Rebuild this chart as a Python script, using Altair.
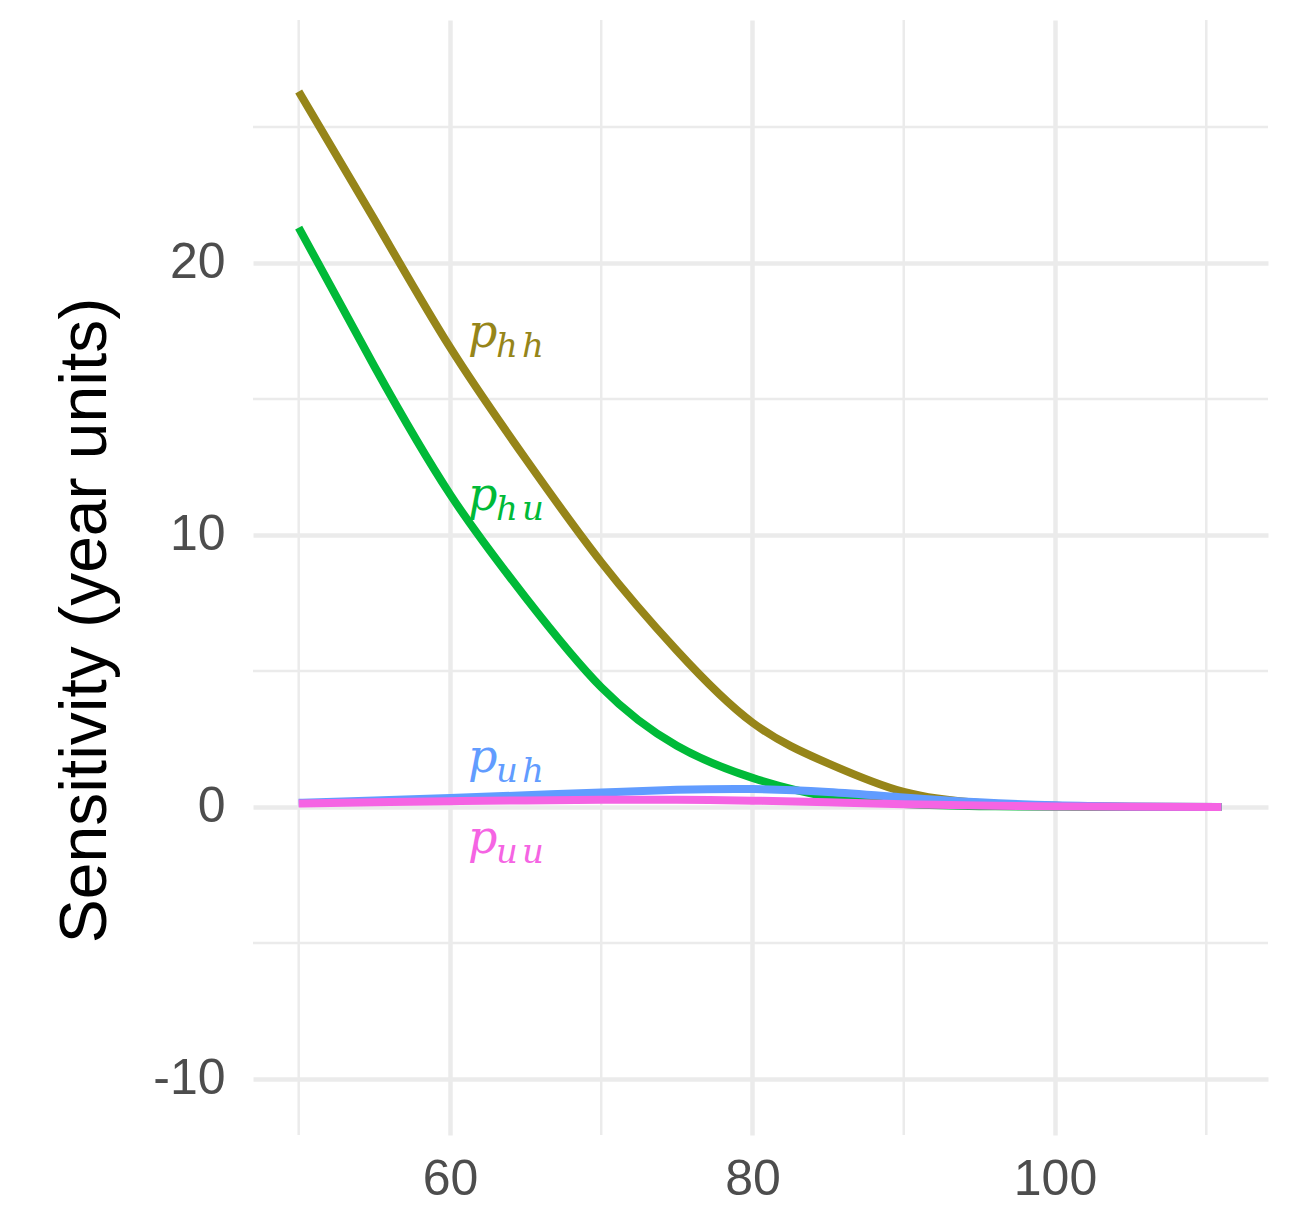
import altair as alt
import pandas as pd

ages = [50, 55, 60, 65, 70, 75, 80, 85, 90, 95, 100, 105, 111]
p_hh = [26.3, 21.6, 16.9, 12.8, 9.0, 5.75, 3.1, 1.6, 0.55, 0.15, 0.04, 0.01, 0.0]
p_hu = [21.3, 16.2, 11.5, 7.7, 4.4, 2.25, 1.07, 0.38, 0.11, 0.03, 0.01, 0.0, 0.0]
p_uh = [0.15, 0.24, 0.33, 0.43, 0.53, 0.63, 0.66, 0.55, 0.35, 0.17, 0.06, 0.02, 0.0]
p_uu = [0.13, 0.17, 0.21, 0.24, 0.26, 0.26, 0.23, 0.17, 0.10, 0.05, 0.02, 0.005, 0.0]

series_names = ["hh", "hu", "uh", "uu"]
series_values = [p_hh, p_hu, p_uh, p_uu]
series_colors = ["#968519", "#00BA38", "#619CFF", "#F564E3"]

label_x = [61.2, 61.2, 61.2, 61.2]
label_y = [16.9, 10.9, 1.29, -1.69]

x_major = [60, 80, 100]
x_minor = [50, 70, 90, 110]
y_major = [-10, 0, 10, 20]
y_minor = [-5, 5, 15, 25]

X_DOMAIN = [46.98, 114.08]
Y_DOMAIN = [-12.06, 28.93]

xs = alt.Scale(domain=X_DOMAIN, nice=False, zero=False)
ys = alt.Scale(domain=Y_DOMAIN, nice=False, zero=False)

rows = []
for name, vals in zip(series_names, series_values):
    for a, v in zip(ages, vals):
        rows.append({"age": a, "value": v, "series": name})
df = pd.DataFrame(rows)

lab = pd.DataFrame({"series": series_names, "x": label_x, "y": label_y,
                    "p": ["p"] * 4,
                    "s1": [n[0] for n in series_names],
                    "s2": [n[1] for n in series_names]})

FONT = "Liberation Sans"
GRID = "#EBEBEB"

minor_x = alt.Chart(pd.DataFrame({"v": x_minor})).mark_rule(
    color=GRID, strokeWidth=2.5).encode(x=alt.X("v:Q", scale=xs))
minor_y = alt.Chart(pd.DataFrame({"v": y_minor})).mark_rule(
    color=GRID, strokeWidth=2.5).encode(y=alt.Y("v:Q", scale=ys))

base_axes = alt.Chart(pd.DataFrame({"a": [60], "b": [0]})).mark_point(opacity=0).encode(
    x=alt.X("a:Q", scale=xs, title=None,
            axis=alt.Axis(values=x_major, grid=True, gridColor=GRID, gridWidth=4.5,
                          domain=False, ticks=False, labelFontSize=50, labelFont=FONT,
                          labelColor="#4D4D4D", labelPadding=19, labelExpr="'' + datum.value")),
    y=alt.Y("b:Q", scale=ys, title="Sensitivity (year units)",
            axis=alt.Axis(values=y_major, grid=True, gridColor=GRID, gridWidth=4.5,
                          domain=False, ticks=False, labelFontSize=50, labelFont=FONT,
                          labelColor="#4D4D4D", labelPadding=28, labelExpr="'' + datum.value",
                          titleFont=FONT, titleFontSize=66, titleColor="#000000",
                          titleFontWeight="normal", titleAngle=-90, titleAlign="center",
                          titleBaseline="alphabetic", titleX=-148, titleY=600)),
)

layers = [minor_x, minor_y, base_axes]
for name, col in zip(series_names, series_colors):
    layers.append(
        alt.Chart(df).transform_filter(alt.datum.series == name).mark_line(
            color=col, strokeWidth=8, interpolate="natural").encode(
            x=alt.X("age:Q", scale=xs), y=alt.Y("value:Q", scale=ys))
    )

for name, col in zip(series_names, series_colors):
    sub = alt.Chart(lab).transform_filter(alt.datum.series == name)
    layers.append(
        sub.mark_text(color=col, font="DejaVu Serif", fontStyle="italic", fontSize=46,
                      align="left", baseline="alphabetic").encode(
            x=alt.X("x:Q", scale=xs), y=alt.Y("y:Q", scale=ys), text="p:N")
    )
    layers.append(
        sub.mark_text(color=col, font="DejaVu Serif", fontStyle="italic", fontSize=34,
                      align="left", baseline="alphabetic", dx=28, dy=10).encode(
            x=alt.X("x:Q", scale=xs), y=alt.Y("y:Q", scale=ys), text="s1:N")
    )
    layers.append(
        sub.mark_text(color=col, font="DejaVu Serif", fontStyle="italic", fontSize=34,
                      align="left", baseline="alphabetic", dx=54, dy=10).encode(
            x=alt.X("x:Q", scale=xs), y=alt.Y("y:Q", scale=ys), text="s2:N")
    )

chart = alt.layer(*layers).properties(
    width=1015, height=1115,
    autosize=alt.AutoSizeParams(type="none"),
    padding={"left": 245, "top": 12, "right": 20, "bottom": 72},
).configure(background="white").configure_view(stroke="transparent", strokeWidth=0)

chart.save("out.html", embed_options={"renderer": "svg", "actions": False})
